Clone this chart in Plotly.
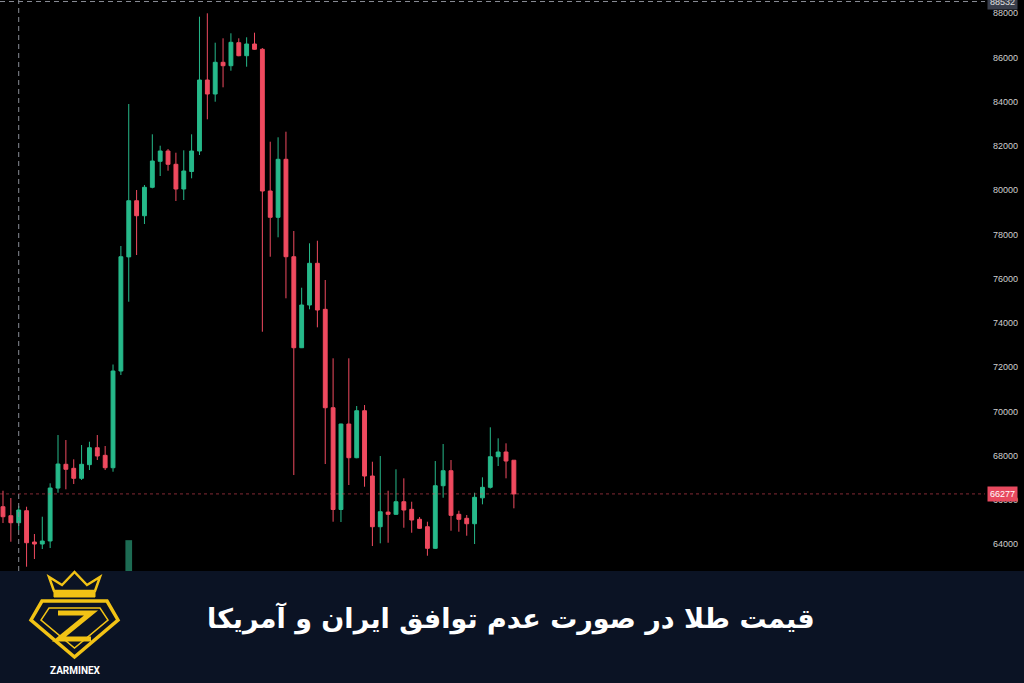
import plotly.graph_objects as go

# ---------------- data ----------------
periods = list(range(66))
opens = [65698, 65291, 64975, 65517, 64103, 64012, 64150, 66540, 67615, 67434,
         66982, 67600, 68365, 68021, 67461, 71832, 76990, 79529, 78851, 80135,
         81310, 81776, 81175, 80058, 80850, 81776, 84985, 84352, 85785, 85631,
         86671, 86083, 86612, 86373, 79968, 78779, 81401, 76998, 72885, 74815,
         76700, 74620, 70173, 65572, 69436, 67913, 70037, 67086, 64794, 65456,
         65355, 65924, 65580, 65130, 64794, 63818, 66647, 67325, 65355, 65175,
         64930, 66100, 66575, 67958, 68171, 67800]
highs = [66421, 66091, 65730, 65698, 64464, 65246, 66756, 68939, 68713, 67841,
         68487, 68636, 68939, 68442, 72126, 77482, 83900, 80013, 80239, 82531,
         82015, 81866, 81699, 81807, 82531, 87846, 88000, 86671, 86870, 87096,
         86870, 86915, 87123, 86430, 82196, 82395, 82648, 78160, 75597, 77604,
         77721, 75945, 72406, 69450, 72406, 70250, 70295, 67732, 67990, 66421,
         67389, 66982, 65924, 65230, 65020, 67764, 68532, 67809, 65517, 65323,
         66331, 67027, 69287, 68790, 68564, 67800]
lows = [64961, 64116, 64645, 62986, 63334, 63786, 63831, 66331, 66485, 66724,
        66905, 67357, 67809, 67357, 67280, 71651, 74964, 77075, 78476, 80090,
        80646, 80885, 79516, 79561, 80542, 81595, 83209, 84004, 84655, 85405,
        86060, 85586, 86350, 73608, 76998, 77875, 75118, 67131, 72870, 74621,
        73807, 67628, 65020, 65007, 66679, 67890, 66602, 63922, 64044, 64071,
        65330, 64749, 64523, 64700, 63483, 63790, 66105, 64613, 64568, 64387,
        64012, 65807, 66520, 67538, 66982, 65626]
closes = [65246, 64975, 65549, 64071, 64012, 64148, 66543, 67628, 67389, 66982,
          67615, 68365, 67990, 67461, 71832, 76998, 79529, 78851, 80135, 81324,
          81776, 81175, 80058, 80872, 81776, 84985, 84352, 85785, 85631, 86689,
          86083, 86612, 86373, 79968, 78779, 81401, 76998, 72885, 74815, 76700,
          74589, 70173, 65572, 69436, 67913, 70037, 67086, 64794, 65472, 65355,
          65924, 65549, 65097, 64722, 63818, 66647, 67325, 65309, 65129, 64930,
          66123, 66575, 67958, 68171, 67764, 66277]
volume_periods = [16]
volume_values = [5.4]

price_ticks = [64000, 66000, 68000, 70000, 72000, 74000, 76000, 78000,
               80000, 82000, 84000, 86000, 88000]
last_price = 66277
crosshair_price = 88532
crosshair_period = 2

title_text = "قیمت طلا در صورت عدم توافق ایران و آمریکا"
brand_text = "ZARMINEX"

# ---------------- style ----------------
GREEN = "#26b98a"
RED = "#ef4a5f"
GOLD = "#f2c315"
BANNER = "#0b1324"
AXIS_FONT = "Liberation Sans, Arial, sans-serif"

W, H = 1024, 683
PL, PR, PT, PB = 0, 39, 0, 112
PW = W - PL - PR
PH = H - PT - PB


def X(px):
    return (px - PL) / PW


def Y(py):
    return (PT + PH - py) / PH


def path(points, close=True):
    s = "M " + " L ".join(f"{X(a):.5f},{Y(b):.5f}" for a, b in points)
    return s + (" Z" if close else "")


fig = go.Figure()

fig.add_trace(go.Bar(
    x=volume_periods, y=volume_values, yaxis="y2",
    marker=dict(color="#1d6b53", line=dict(width=0)), width=0.85,
    hoverinfo="skip"))

fig.add_trace(go.Candlestick(
    x=periods, open=opens, high=highs, low=lows, close=closes,
    increasing=dict(line=dict(color=GREEN, width=1), fillcolor=GREEN),
    decreasing=dict(line=dict(color=RED, width=1), fillcolor=RED),
    whiskerwidth=0))

shapes = [
    # banner
    dict(type="rect", xref="paper", yref="paper", x0=X(0), x1=X(W),
         y0=Y(H), y1=Y(PT + PH), fillcolor=BANNER, line=dict(width=0),
         layer="below"),
    # last price line
    dict(type="line", xref="paper", yref="y", x0=0, x1=1,
         y0=last_price, y1=last_price,
         line=dict(color="rgba(239,74,95,0.55)", width=1, dash="dot")),
    # crosshair
    dict(type="line", xref="paper", yref="y", x0=0, x1=1,
         y0=crosshair_price, y1=crosshair_price,
         line=dict(color="#8a8d96", width=1, dash="5px,4px")),
    dict(type="line", xref="x", yref="paper", x0=crosshair_period,
         x1=crosshair_period, y0=0, y1=1,
         line=dict(color="#8a8d96", width=1, dash="5px,4px")),
]

# logo: crown
shapes.append(dict(type="path", xref="paper", yref="paper",
                   path=path([(54, 591), (49, 577), (62, 585), (74.5, 572),
                              (87, 585), (100, 577), (95, 591)]),
                   line=dict(color=GOLD, width=2.5), fillcolor="rgba(0,0,0,0)"))
shapes.append(dict(type="path", xref="paper", yref="paper",
                   path=path([(54, 592), (95, 592), (95, 597), (54, 597)]),
                   line=dict(color=GOLD, width=1), fillcolor=GOLD))
# logo: diamond
shapes.append(dict(type="path", xref="paper", yref="paper",
                   path=path([(42, 601), (107, 601), (118, 620), (74.5, 657),
                              (31, 620)]),
                   line=dict(color=GOLD, width=3.5), fillcolor="rgba(0,0,0,0)"))
shapes.append(dict(type="path", xref="paper", yref="paper",
                   path=path([(49, 608), (100, 608), (108, 620), (74.5, 648),
                              (41, 620)]),
                   line=dict(color=GOLD, width=1.5), fillcolor="rgba(0,0,0,0)"))
shapes.append(dict(type="path", xref="paper", yref="paper",
                   path=path([(58, 613), (91, 613), (59, 639), (91, 639)],
                             close=False),
                   line=dict(color=GOLD, width=5), fillcolor="rgba(0,0,0,0)"))

annotations = [
    dict(xref="paper", yref="y", x=X(1002), y=last_price, text=str(last_price),
         showarrow=False, xanchor="center", yanchor="middle",
         bgcolor="#e84a5f", borderpad=2,
         font=dict(family=AXIS_FONT, size=9, color="#ffffff")),
    dict(xref="paper", yref="y", x=X(1002), y=crosshair_price,
         text=str(crosshair_price), showarrow=False, xanchor="center",
         yanchor="middle", bgcolor="#3a3f4c", borderpad=2,
         font=dict(family=AXIS_FONT, size=9, color="#e0e0e0")),
    dict(xref="paper", yref="paper", x=X(511), y=Y(619), text=title_text,
         showarrow=False, xanchor="center", yanchor="middle",
         font=dict(family="DejaVu Sans", size=27, color="#ffffff",
                   weight="bold")),
    dict(xref="paper", yref="paper", x=X(75), y=Y(670), text=brand_text,
         showarrow=False, xanchor="center", yanchor="middle",
         font=dict(family="Roboto", size=10, color="#ffffff", weight="bold")),
]

fig.update_layout(
    width=W, height=H,
    margin=dict(l=PL, r=PR, t=PT, b=PB, pad=0),
    paper_bgcolor="#000000", plot_bgcolor="#000000",
    showlegend=False,
    shapes=shapes, annotations=annotations,
    xaxis=dict(range=[-0.38, 124.94], showgrid=False, zeroline=False,
               showticklabels=False, ticks="", showline=False,
               rangeslider=dict(visible=False), fixedrange=True),
    yaxis=dict(range=[62793, 88601], side="right", showgrid=False,
               zeroline=False, tickvals=price_ticks,
               ticktext=[str(v) for v in price_ticks], ticks="",
               ticklabelstandoff=7, showline=False,
               tickfont=dict(family=AXIS_FONT, size=9, color="#cfcfcf")),
    yaxis2=dict(range=[0, 100], overlaying="y", visible=False),
)

fig.write_html("out.html",
               config={"displayModeBar": False},
               post_script="document.body.style.margin='0';"
                           "document.body.style.overflow='hidden';")
